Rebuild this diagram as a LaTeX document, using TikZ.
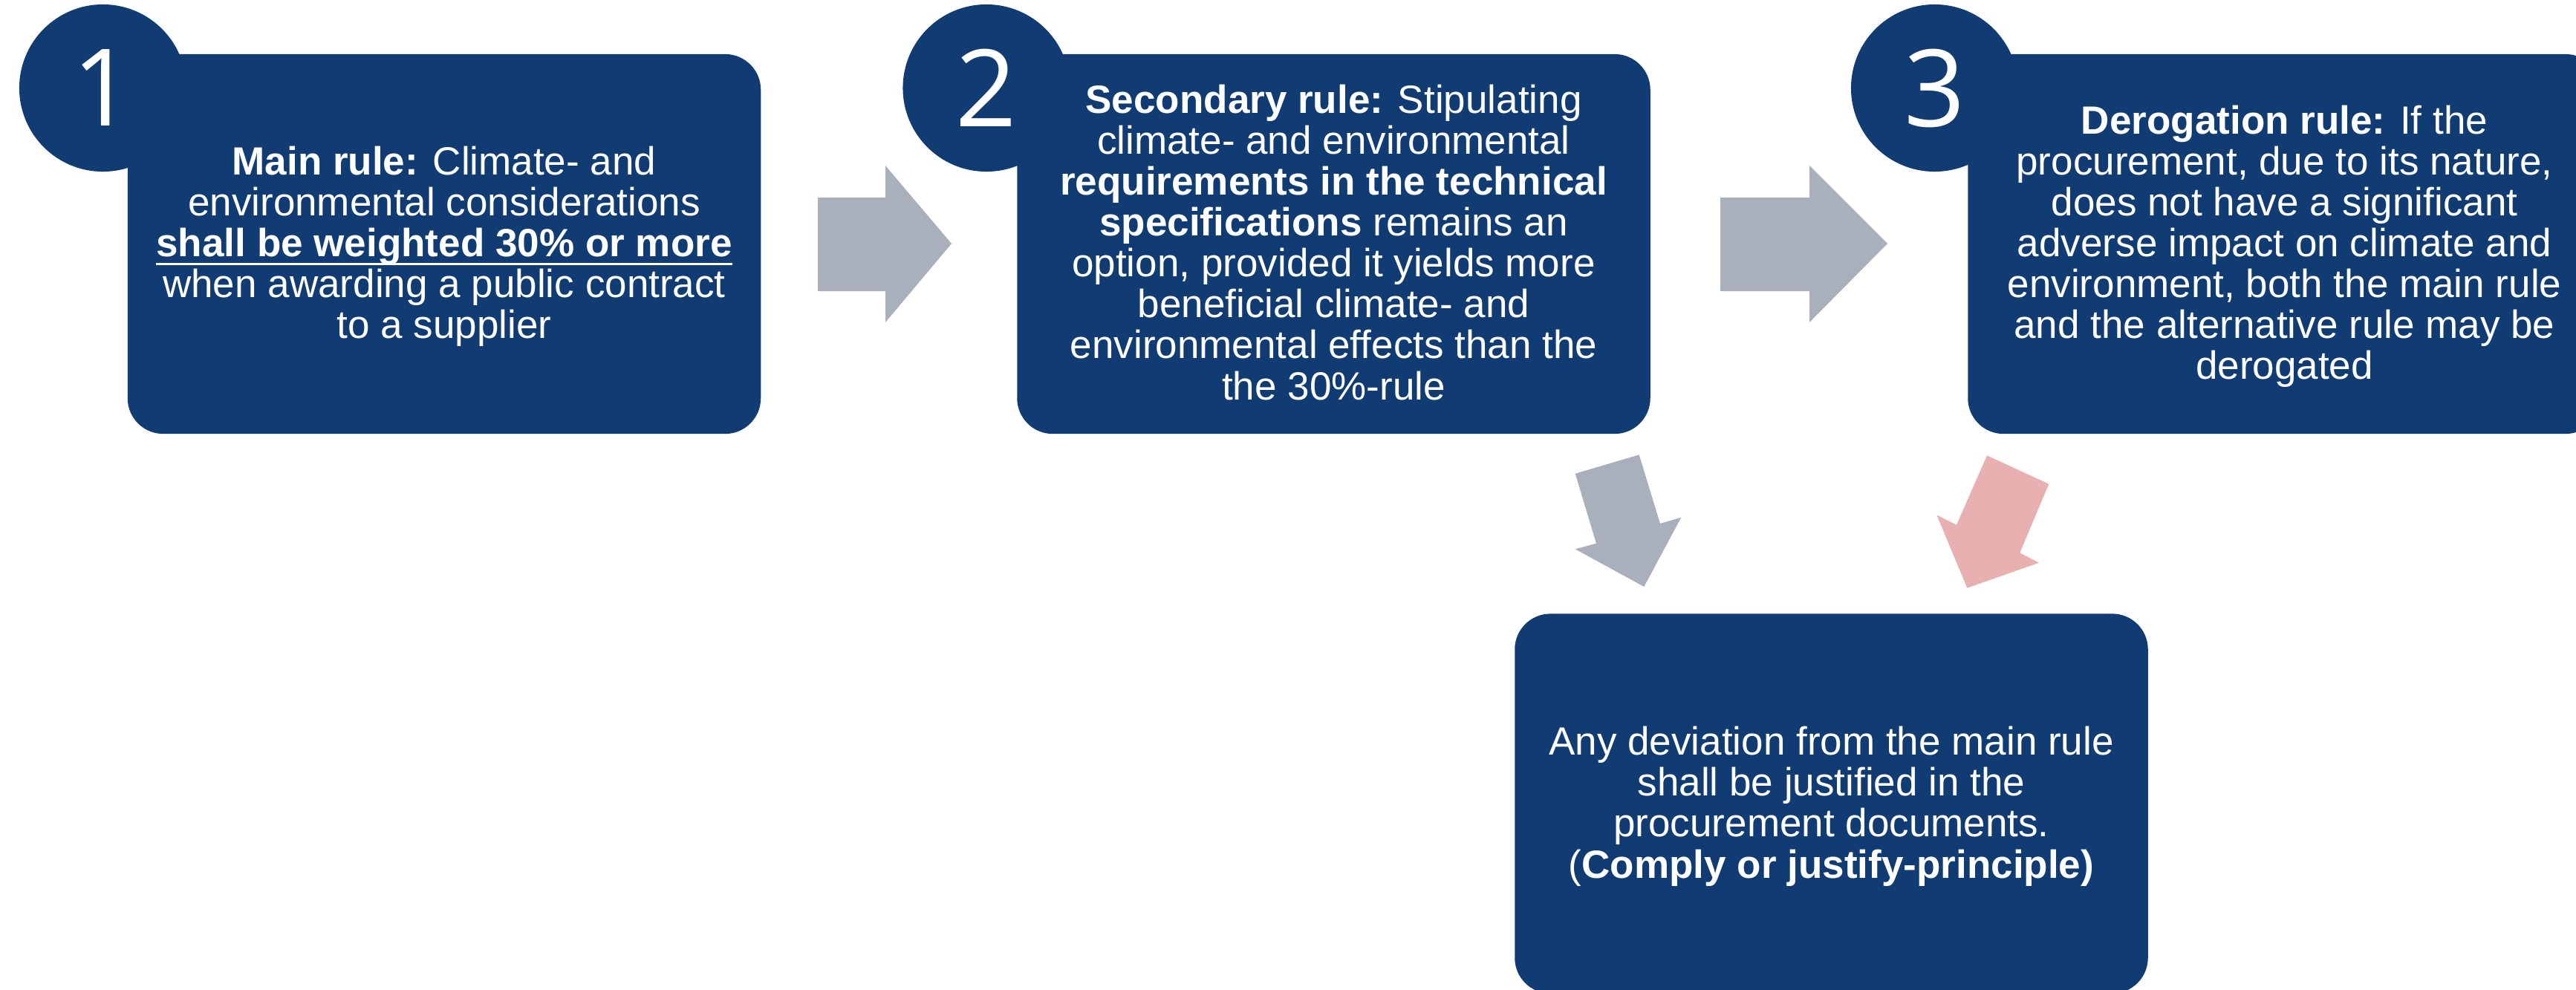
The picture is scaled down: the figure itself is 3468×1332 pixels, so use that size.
\documentclass[tikz,border=0pt]{standalone}
\usepackage{fontspec}
\setmainfont{Liberation Sans}
\newfontfamily\numfont{Open Sans}
\definecolor{navy}{RGB}{17,60,115}
\definecolor{arrowgray}{RGB}{169,175,187}
\definecolor{arrowpink}{RGB}{232,176,177}
\newcommand\myul[1]{\setbox0\hbox{#1}\rlap{\vrule width\wd0 height -0.155em depth 0.225em}\box0}
\tikzset{
  rulebox/.style={fill=navy, draw=none, rounded corners=0.48cm, minimum width=8.52cm, minimum height=5.11cm, inner sep=0pt},
  numcircle/.style={circle, fill=navy, draw=none, minimum size=2.25cm, inner sep=0pt},
  numtext/.style={text=white, inner sep=0pt, font=\numfont\fontsize{41pt}{41pt}\selectfont},
  boxtext/.style={text=white, align=center, inner sep=0pt, anchor=north, font=\fontsize{15.08pt}{15.68pt}\selectfont},
}
\begin{document}
\begin{tikzpicture}[x=0.01cm, y=-0.01cm]
\useasboundingbox (0,0) rectangle (3468,1332);
\clip (0,0) rectangle (3468,1332);
% circles
\node[numcircle] (c1) at (138.5,118.5) {};
\node[numcircle] (c2) at (1328,118.5) {};
\node[numcircle] (c3) at (2604.5,118.5) {};
% boxes
\node[rulebox] (b1) at (598,328.5) {};
\node[rulebox] (b2) at (1795.5,328.5) {};
\node[rulebox] (b3) at (3075.5,328.5) {};
\node[rulebox] (b4) at (2465.5,1082) {};
% numbers
\node[numtext] (n1) at (c1.center) {1};
\node[numtext] (n2) at (c2.center) {2};
\node[numtext] (n3) at (c3.center) {3};
% texts
\node[boxtext] (t1) at (598,196) {\textbf{Main rule:} Climate- and\\ environmental considerations\\ \myul{\textbf{shall be weighted 30\% or more}}\\ when awarding a public contract\\ to a supplier};
\node[boxtext] (t2) at (1795.5,113) {\textbf{Secondary rule:} Stipulating\\ climate- and environmental\\ \textbf{requirements in the technical}\\ \textbf{specifications} remains an\\ option, provided it yields more\\ beneficial climate- and\\ environmental effects than the\\ the 30\%-rule};
\node[boxtext] (t3) at (3075.5,141) {\textbf{Derogation rule:} If the\\ procurement, due to its nature,\\ does not have a significant\\ adverse impact on climate and\\ environment, both the main rule\\ and the alternative rule may be\\ derogated};
\node[boxtext] (t4) at (2465.5,977.5) {Any deviation from the main rule\\ shall be justified in the\\ procurement documents.\\ (\textbf{Comply or justify-principle)}};
% arrows
\fill[arrowgray] (1101,266) -- (1192,266) -- (1192,223) -- (1281,328) -- (1192,434) -- (1192,392) -- (1101,392) -- cycle;
\fill[arrowgray] (2316,266) -- (2436,266) -- (2436,223) -- (2541,328) -- (2436,434) -- (2436,392) -- (2316,392) -- cycle;
\fill[arrowgray] (2120.7,637.7) -- (2206.7,612.3) -- (2235,705) -- (2263.3,696.7) -- (2213.3,790) -- (2120.7,739.3) -- (2149,731.7) -- cycle;
\fill[arrowpink] (2675,613.3) -- (2758.3,651.7) -- (2719.3,744.3) -- (2745,757.7) -- (2648.3,791.7) -- (2607.3,693.3) -- (2634,706.7) -- cycle;
\end{tikzpicture}
\end{document}
